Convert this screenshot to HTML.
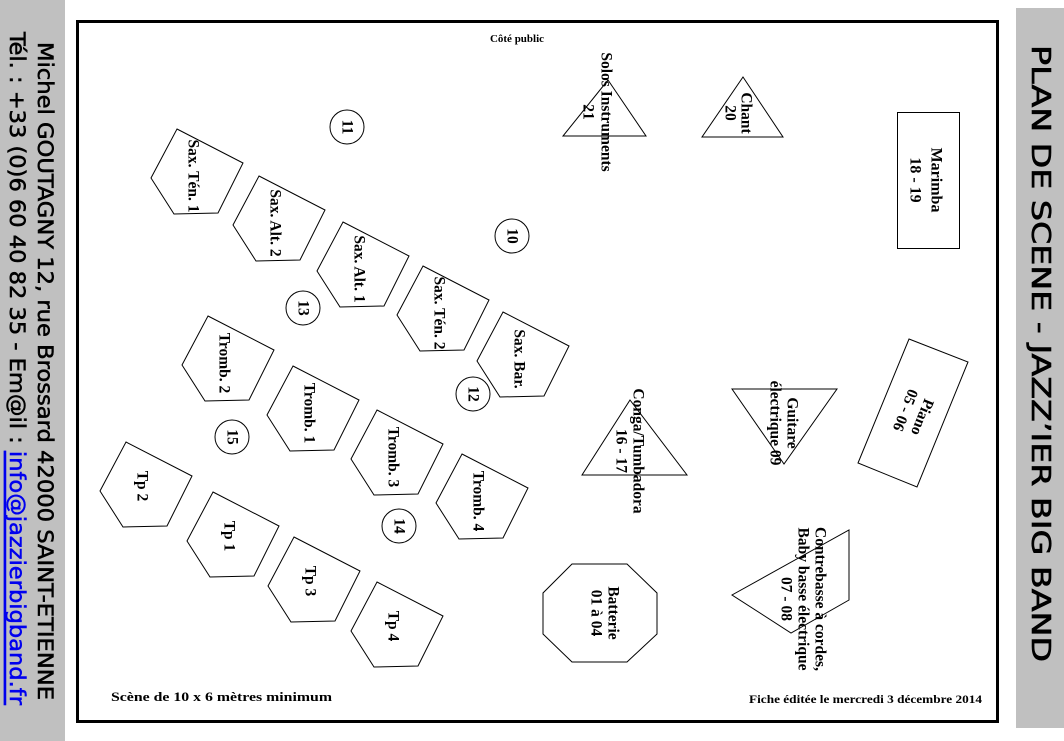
<!DOCTYPE html>
<html><head><meta charset="utf-8"><style>
html,body{margin:0;padding:0;background:#fff;}
svg{display:block;}
.l{font-family:"Liberation Serif",serif;font-weight:bold;font-size:15.5px;fill:#000;}
.s{fill:none;stroke:#000;stroke-width:1;}
</style></head><body>
<svg width="1064" height="741" viewBox="0 0 1064 741" xmlns="http://www.w3.org/2000/svg">
<defs>
<polygon id="p" points="0,0 66,34 41,84 -3,85 -26,49" class="s"/>
</defs>
<rect x="0" y="0" width="65" height="741" fill="#c0c0c0"/>
<rect x="1016" y="8" width="48" height="720" fill="#c0c0c0"/>
<rect x="77.5" y="21.5" width="920" height="700" fill="#fff" stroke="#000" stroke-width="3"/>

<g font-family="DejaVu Sans Condensed, DejaVu Sans, sans-serif" font-size="21" stroke-width="0.5">
<text transform="translate(45,42) rotate(90)" dominant-baseline="central" stroke="#000" textLength="658" lengthAdjust="spacingAndGlyphs">Michel GOUTAGNY 12, rue Brossard 42000 SAINT-ETIENNE</text>
<text transform="translate(17,32) rotate(90)" dominant-baseline="central" stroke="#000" textLength="673" lengthAdjust="spacingAndGlyphs">Tél. : +33 (0)6 60 40 82 35 - Em@il : <tspan fill="#0000ee" stroke="#0000ee" text-decoration="underline">info@jazzierbigband.fr</tspan></text>
</g>
<text transform="translate(1040,45) rotate(90)" dominant-baseline="central" font-family="DejaVu Sans Condensed, DejaVu Sans, sans-serif" stroke="#000" stroke-width="0.6" font-size="26" textLength="617" lengthAdjust="spacingAndGlyphs">PLAN DE SCENE - JAZZ’IER BIG BAND</text>

<text x="517" y="42" text-anchor="middle" class="l" style="font-size:11px">Côté public</text>
<text x="111" y="701" class="l" style="font-size:13px" textLength="221" lengthAdjust="spacingAndGlyphs">Scène de 10 x 6 mètres minimum</text>
<text x="749" y="703" class="l" style="font-size:12px" textLength="233" lengthAdjust="spacingAndGlyphs">Fiche éditée le mercredi 3 décembre 2014</text>

<g>
<use href="#p" x="177" y="129"/><use href="#p" x="259" y="176"/><use href="#p" x="343" y="222"/><use href="#p" x="423" y="266"/><use href="#p" x="503" y="312"/>
<use href="#p" x="208" y="316"/><use href="#p" x="293" y="366"/><use href="#p" x="377" y="410"/><use href="#p" x="462" y="454"/>
<use href="#p" x="126" y="442"/><use href="#p" x="213" y="492"/><use href="#p" x="294" y="537"/><use href="#p" x="377" y="582"/>
</g>
<g class="l" text-anchor="middle" dominant-baseline="central">
<text transform="translate(193,176) rotate(90)">Sax. Tén. 1</text>
<text transform="translate(275,223) rotate(90)">Sax. Alt. 2</text>
<text transform="translate(359,269) rotate(90)">Sax. Alt. 1</text>
<text transform="translate(439,313) rotate(90)">Sax. Tén. 2</text>
<text transform="translate(519,359) rotate(90)">Sax. Bar.</text>
<text transform="translate(224,363) rotate(90)">Tromb. 2</text>
<text transform="translate(309,413) rotate(90)">Tromb. 1</text>
<text transform="translate(393,457) rotate(90)">Tromb. 3</text>
<text transform="translate(478,501) rotate(90)">Tromb. 4</text>
<text transform="translate(142,486) rotate(90)">Tp 2</text>
<text transform="translate(229,536) rotate(90)">Tp 1</text>
<text transform="translate(310,581) rotate(90)">Tp 3</text>
<text transform="translate(393,626) rotate(90)">Tp 4</text>
</g>

<g class="s">
<circle cx="347" cy="127" r="17"/><circle cx="512" cy="236" r="17"/><circle cx="303" cy="308" r="17"/>
<circle cx="473" cy="394" r="17"/><circle cx="232" cy="437" r="17"/><circle cx="399" cy="526" r="17"/>
</g>
<g class="l" text-anchor="middle" dominant-baseline="central">
<text transform="translate(347,127) rotate(90)">11</text>
<text transform="translate(512,236) rotate(90)">10</text>
<text transform="translate(303,308) rotate(90)">13</text>
<text transform="translate(473,394) rotate(90)">12</text>
<text transform="translate(232,437) rotate(90)">15</text>
<text transform="translate(399,526) rotate(90)">14</text>
</g>

<g class="s">
<polygon points="608,80 646,136 563,136"/>
<polygon points="743,77 783,137 702,137"/>
<rect x="897.5" y="112.5" width="62" height="136"/>
<polygon points="630,400 687,475 582,475"/>
<polygon points="732,389 837,389 784,464"/>
<polygon points="909,339 968,362 917,487 858,463"/>
<polygon points="849,530 849,600 791,633 732,595"/>
<polygon points="572,564 627,564 657,593 657,634 627,662 572,662 543,634 543,593"/>
</g>
<g class="l" text-anchor="middle" dominant-baseline="central">
<text transform="translate(606,112) rotate(90)">Solos Instruments</text>
<text transform="translate(588,112) rotate(90)">21</text>
<text transform="translate(746,113) rotate(90)">Chant</text>
<text transform="translate(730,113) rotate(90)">20</text>
<text transform="translate(936,180) rotate(90)" style="font-size:16px">Marimba</text>
<text transform="translate(915,180) rotate(90)" style="font-size:16px">18 - 19</text>
<text transform="translate(638,451) rotate(90)">Conga/Tumbadora</text>
<text transform="translate(621,451) rotate(90)">16 - 17</text>
<text transform="translate(792,423) rotate(90)">Guitare</text>
<text transform="translate(775,423) rotate(90)">électrique 09</text>
<text transform="translate(922,417) rotate(112)">Piano</text>
<text transform="translate(905,410) rotate(112)">05 - 06</text>
<text transform="translate(820,599) rotate(90)">Contrebasse à cordes,</text>
<text transform="translate(803,599) rotate(90)">Baby basse électrique</text>
<text transform="translate(786,599) rotate(90)">07 - 08</text>
<text transform="translate(613,613) rotate(90)">Batterie</text>
<text transform="translate(596,613) rotate(90)">01 à 04</text>
</g>
</svg>
</body></html>
